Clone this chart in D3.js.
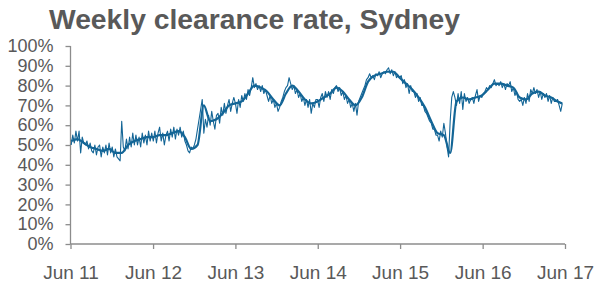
<!DOCTYPE html>
<html>
<head>
<meta charset="utf-8">
<script src="https://cdn.jsdelivr.net/npm/d3@7"></script>
<style>
  body { margin: 0; background: #fff; }
  svg text { font-family: "Liberation Sans", Arial, sans-serif; fill: #595959; }
</style>
</head>
<body>
<svg id="chart" width="596" height="288"></svg>
<script>
// weekly clearance rate (%), one value per week from first week of Jun 2011
const firstWeek = "2011-06-04";
const weekly2011 = [50, 55, 51, 57, 52, 57, 46, 54, 51, 50, 52, 48, 51, 47, 46, 50, 45, 49, 50, 44,
  49, 46, 50, 45, 51, 46, 49, 44, 48, 44, 43, 42, 62, 49, 47, 53, 48, 54, 49, 56,
  50, 55, 50, 54, 49, 56, 51, 55, 50, 57, 52, 56];
const weekly2012 = [52, 57, 51, 56, 59, 52, 56, 50, 55, 57, 52, 58, 54, 59, 53, 58, 55, 59, 54, 57,
  52, 50, 47, 46, 49, 48, 50, 53, 58, 63, 68, 73, 56, 63, 59, 65, 60, 67, 62, 58,
  65, 66, 61, 69, 65, 71, 66, 70, 73, 67, 71, 74];
const weekly2013 = [71, 66, 73, 69, 75, 72, 76, 73, 78, 75, 79, 84, 79, 81, 78, 80, 77, 80, 76, 78,
  75, 72, 75, 71, 73, 69, 71, 67, 69, 72, 74, 77, 79, 80, 84, 81, 78, 80, 76, 78,
  74, 76, 72, 74, 70, 73, 69, 73, 66, 71, 69, 73];
const weekly2014 = [73, 69, 74, 76, 72, 77, 74, 77, 73, 78, 76, 79, 80, 77, 79, 75, 77, 73, 75, 71,
  73, 69, 71, 67, 71, 65, 72, 74, 76, 78, 80, 83, 84, 86, 84, 85, 83, 86, 85, 87,
  84, 86, 87, 86, 88, 89, 86, 88, 85, 87, 84, 85];
const weekly2015 = [84, 85, 81, 83, 79, 81, 76, 80, 77, 77, 74, 76, 72, 74, 70, 70, 67, 66, 64, 62,
  61, 58, 58, 55, 55, 52, 57, 54, 61, 56, 49, 44, 62, 74, 77, 74, 70, 76, 71, 77,
  68, 76, 72, 74, 71, 73, 74, 71, 75, 78, 72, 75];
const weekly2016 = [74, 76, 77, 79, 78, 80, 79, 81, 83, 80, 81, 80, 82, 79, 81, 78, 81, 80, 82, 77,
  79, 75, 77, 73, 72, 73, 70, 74, 71, 76, 72, 78, 76, 79, 76, 78, 74, 77, 73, 76,
  74, 76, 72, 75, 71, 74, 72, 72, 73, 70, 67, 71];

// trend line (%), one value every four weeks
const trend = [52, 53, 51, 49, 48, 47, 48, 46, 46, 50, 52, 53, 54, 54, 55, 55, 56, 57, 54, 48,
  50, 70, 62, 63, 66, 70, 71, 72, 76, 80, 79, 77, 73, 70, 76, 80, 77, 73, 71, 72,
  74, 76, 79, 77, 73, 70, 74, 82, 85, 86, 87, 87, 84, 81, 78, 74, 69, 62, 56, 55,
  46, 72, 74, 73, 74, 75, 78, 81, 81, 80, 79, 74, 73, 76, 77, 75, 74, 72, 71];

const yTicks = [0, 10, 20, 30, 40, 50, 60, 70, 80, 90, 100];
const xTickYears = [2011, 2012, 2013, 2014, 2015, 2016, 2017];

const svg = d3.select("svg#chart");
const margin = { top: 46, right: 31, bottom: 44, left: 70.5 };
const width = 596 - margin.left - margin.right;
const height = 288 - margin.top - margin.bottom;
const lineColor = "#136596";
const axisColor = "#8c8c8c";

const start = d3.timeParse("%Y-%m-%d")(firstWeek);
const weekly = [].concat(weekly2011, weekly2012, weekly2013, weekly2014, weekly2015, weekly2016)
  .map((v, i) => ({ date: d3.timeWeek.offset(start, i), rate: v }));
const trendData = trend.map((v, i) => ({
  date: d3.timeWeek.offset(start, Math.min(i * 4, weekly.length - 1)),
  rate: v
}));

const x = d3.scaleTime()
  .domain([new Date(2011, 5, 1), new Date(2017, 5, 1)])
  .range([0, width]);
const y = d3.scaleLinear().domain([0, 100]).range([height, 0]);

// title
svg.append("text")
  .attr("x", 49)
  .attr("y", 29)
  .attr("font-size", "27px")
  .attr("font-weight", "bold")
  .attr("textLength", 411)
  .attr("lengthAdjust", "spacingAndGlyphs")
  .text("Weekly clearance rate, Sydney");

const g = svg.append("g")
  .attr("transform", `translate(${margin.left},${margin.top})`);

// y axis
const yAxis = g.append("g")
  .call(d3.axisLeft(y).tickValues(yTicks).tickSize(5).tickPadding(12)
    .tickFormat((d) => d + "%"));
// x axis
const xAxis = g.append("g")
  .attr("transform", `translate(0,${height})`)
  .call(d3.axisBottom(x)
    .tickValues(xTickYears.map((yr) => new Date(yr, 5, 1)))
    .tickSize(5).tickPadding(17)
    .tickFormat(d3.timeFormat("Jun %y")));

[yAxis, xAxis].forEach((ax) => {
  ax.select(".domain").attr("stroke", axisColor).attr("stroke-width", 1.3);
  ax.selectAll(".tick line").attr("stroke", axisColor).attr("stroke-width", 1.3);
  ax.selectAll(".tick text").attr("fill", "#595959");
});
yAxis.selectAll(".tick text").attr("font-size", "18px");
xAxis.selectAll(".tick text").attr("font-size", "19px");
// no outer ticks at the ends
yAxis.select(".domain").attr("d", `M0,${height}V0`);
xAxis.select(".domain").attr("d", `M0,0H${width}`);

// weekly series
g.append("path")
  .datum(weekly)
  .attr("fill", "none")
  .attr("stroke", lineColor)
  .attr("stroke-width", 1.1)
  .attr("stroke-linejoin", "round")
  .attr("d", d3.line().x((d) => x(d.date)).y((d) => y(d.rate)));

// trend
g.append("path")
  .datum(trendData)
  .attr("fill", "none")
  .attr("stroke", lineColor)
  .attr("stroke-width", 2.2)
  .attr("stroke-linejoin", "round")
  .attr("d", d3.line().curve(d3.curveMonotoneX).x((d) => x(d.date)).y((d) => y(d.rate)));
</script>
</body>
</html>
